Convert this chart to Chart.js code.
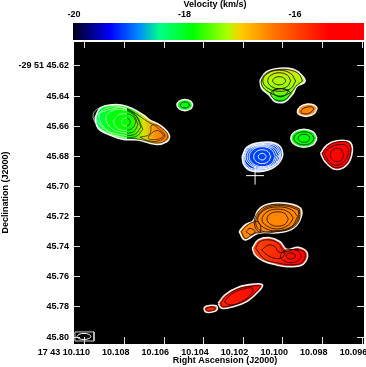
<!DOCTYPE html>
<html>
<head>
<meta charset="utf-8">
<script src="https://cdn.jsdelivr.net/npm/chart.js@4"></script>
<style>
html, body { margin: 0; padding: 0; background: #fff; overflow: hidden; }
canvas { position: absolute; left: 0; top: 0; }
</style>
</head>
<body>
<canvas id="map" width="366" height="367"></canvas>
<canvas id="bar" width="366" height="41"></canvas>
<script>
// axis ticks
var raTicks = [10.110, 10.108, 10.106, 10.104, 10.102, 10.100, 10.098, 10.096];
var raTickLabels = ['17 43 10.110', '10.108', '10.106', '10.104', '10.102', '10.100', '10.098', '10.096'];
var decTicks = [45.62, 45.64, 45.66, 45.68, 45.70, 45.72, 45.74, 45.76, 45.78, 45.80];
var decTickLabels = ['-29 51 45.62', '45.64', '45.66', '45.68', '45.70', '45.72', '45.74', '45.76', '45.78', '45.80'];
var velocityTicks = [-20, -18, -16];

// colour bar
var velocityStops = [-20.02, -19.35, -18.84, -18.45, -17.85, -17.23, -16.98, -16.4, -15.4, -14.75];
var velocityColors = ['#000018', '#0000ff', '#0088ff', '#00ff88', '#00ff00', '#aaff00', '#ffcc00', '#ff7700', '#ff0000', '#ff0000'];

// contours: [RA - 10.1 s in ms, Dec - 45.6 arcsec in mas], outermost first
var sourceA = [
	[[9.49,54.7],[9.24,48.1],[8.74,45.9],[8.15,45.9],[7.64,48.1],[7.05,52.5],[6.72,55.9],[6.21,59.2],[5.74,65.8],[5.87,70.3],[6.46,72.0],[7.31,69.1],[8.06,68.7],[8.74,65.8],[9.33,61.4]],
	[[8.23,47.2],[7.73,49.2],[6.72,57.8],[6.21,60.5],[5.81,66.5],[6.21,71.1],[7.32,68.5],[8.13,67.1],[9.0,62],[9.4,53]],
	[[7.07,62],[7.45,52.5],[8.33,46.7],[9.21,47.5],[9.59,53],[9.21,61.5],[8.33,66.8],[7.45,67]],
	[[7.17,60.5],[7.49,52.0],[8.23,47.5],[8.97,48.5],[9.29,53],[8.97,61.5],[8.23,65.5],[7.49,65.5]],
	[[7.32,59],[7.56,52.2],[8.13,48.9],[8.70,50.2],[8.94,54],[8.70,61],[8.13,64.1],[7.56,63.8]],
	[[7.42,57.2],[7.59,53.2],[7.98,51.6],[8.37,53.2],[8.54,57.2],[8.37,61.2],[7.98,62.8],[7.59,61.2]],
	[[7.70,57.2],[7.77,55.3],[7.93,54.5],[8.09,55.3],[8.16,57.2],[8.09,59.1],[7.93,59.9],[7.77,59.1]],
	[[7.22,67.3],[6.72,65.2],[6.63,59.2],[6.30,61.4],[5.96,66.5],[6.30,69.8],[6.80,69.6]],
	[[6.55,63.6],[6.30,62.9],[6.04,66.5],[6.35,68.7],[6.80,68.0]]
];
var sourceB = [
	[[4.55,45.9],[4.67,43.3],[4.95,42.2],[5.23,43.3],[5.35,45.9],[5.23,48.5],[4.95,49.6],[4.67,48.5]],
	[[4.72,45.9],[4.79,44.5],[4.95,43.9],[5.11,44.5],[5.18,45.9],[5.11,47.3],[4.95,47.9],[4.79,47.3]]
];
var sourceC = [
	[[1.16,29.3],[0.82,23.8],[0.15,21.5],[-0.52,22.2],[-0.94,26.0],[-1.11,30.4],[-0.69,33.7],[-0.52,38.1],[-0.10,43.7],[0.40,43.7],[0.69,39.3],[1.08,34.8]],
	[[-0.98,30],[-0.82,25.5],[-0.45,23],[0.15,22.3],[0.78,24.4],[1.08,29.3],[1.02,33.8],[0.62,38],[0.1,40],[-0.45,37],[-0.65,33.5]],
	[[-0.42,38],[-0.08,42.5],[0.36,42.6],[0.62,38.5],[0.4,35.5],[-0.1,35.5]],
	[[-0.3,36],[-0.05,40],[0.3,40],[0.5,37],[0.1,35]],
	[[-0.64,30],[-0.39,25],[0.19,22.8],[0.77,24.9],[1.02,29.8],[0.77,34.7],[0.19,36.8],[-0.39,35]],
	[[-0.39,29.8],[-0.22,26.1],[0.19,24.5],[0.60,26.1],[0.77,29.8],[0.60,33.5],[0.19,35.1],[-0.22,33.5]],
	[[-0.14,29.8],[-0.04,27.9],[0.19,27.1],[0.42,27.9],[0.52,29.8],[0.42,31.7],[0.19,32.5],[-0.04,31.7]]
];
var sourceD = [
	[[-1.73,48],[-1.58,46],[-1.23,45.3],[-0.88,47],[-0.73,50.5],[-0.88,52.5],[-1.23,53.4],[-1.58,51.5]],
	[[-1.56,48.2],[-1.46,47.2],[-1.23,47.2],[-1.0,48.5],[-0.9,50.5],[-1.0,51.5],[-1.23,51.7],[-1.46,50.2]]
];
var sourceE = [
	[[-1.72,68],[-1.52,63.8],[-1.06,62],[-0.60,63.8],[-0.40,68],[-0.60,72.2],[-1.06,74],[-1.52,72.2]],
	[[-1.57,68],[-1.42,65],[-1.06,63.7],[-0.70,65],[-0.55,68],[-0.70,71],[-1.06,72.3],[-1.42,71]],
	[[-1.36,68],[-1.27,66.1],[-1.06,65.3],[-0.85,66.1],[-0.76,68],[-0.85,69.9],[-1.06,70.7],[-1.27,69.9]]
];
var sourceF = [
	[[-1.90,78],[-2.21,72.5],[-2.71,69.6],[-3.35,70.3],[-3.50,76.9],[-3.22,85.7],[-2.63,88.6],[-2.12,83.5]],
	[[-1.98,78],[-2.27,73.2],[-2.71,70.6],[-3.3,71],[-3.42,77],[-3.17,85],[-2.63,87.6],[-2.17,83]],
	[[-2.1,78.2],[-2.33,74.5],[-2.73,72.4],[-3.2,73],[-3.3,77.5],[-3.08,83.5],[-2.63,86],[-2.27,82.5]],
	[[-3.07,79.1],[-2.97,76],[-2.73,74.7],[-2.49,76],[-2.39,79.1],[-2.49,82.2],[-2.73,83.5],[-2.97,82.2]]
];
var sourceG = [
	[[2.06,80.2],[1.83,74],[1.16,70.9],[0.40,71.3],[0.04,76.2],[0.15,83.5],[0.74,89.1],[1.58,89.7],[1.97,85.7]],
	[[0.1,77],[0.2,83],[0.74,88.4],[1.55,89],[1.92,85.4],[2.0,80.2],[1.8,74.5],[1.16,71.7],[0.42,72]],
	[[0.15,78],[0.24,83],[0.74,87.6],[1.5,88.4],[1.88,85],[1.95,80.2],[1.74,74.6],[1.12,72.3],[0.44,72.8]],
	[[0.19,79],[0.45,74.2],[1.05,72.4],[1.65,74.6],[1.91,80.2],[1.65,85.8],[1.05,88.2],[0.45,85.5]],
	[[0.29,79.5],[0.52,74.8],[1.05,73],[1.58,75],[1.81,80.2],[1.58,85.4],[1.05,87.5],[0.52,85.2]],
	[[0.39,80],[0.59,75.5],[1.05,73.6],[1.51,75.5],[1.71,80.2],[1.51,84.9],[1.05,86.8],[0.59,85]],
	[[0.62,80.2],[0.75,76.9],[1.05,75.6],[1.35,76.9],[1.48,80.2],[1.35,83.5],[1.05,84.8],[0.75,83.5]],
	[[0.85,80.2],[0.91,78.7],[1.05,78],[1.19,78.7],[1.25,80.2],[1.19,81.7],[1.05,82.4],[0.91,81.7]]
];
var sourceH = [
	[[2.21,130],[1.92,125.6],[1.50,122.7],[1.25,115.6],[0.74,111.6],[-0.19,111.2],[-0.89,114.5],[-0.86,122.3],[-0.44,128.4],[0.32,130.7],[1.25,131.1],[1.92,135.5]],
	[[2.1,130],[1.85,126.2],[1.45,123.5],[1.2,124],[1.15,130.3],[1.45,131],[1.9,134.5]],
	[[-0.82,114.8],[-0.82,122],[-0.42,127.8],[0.32,130],[1.2,130.3],[1.45,124],[1.25,117],[0.74,112.6],[-0.19,112.2]],
	[[-0.78,115.6],[-0.76,121.6],[-0.42,127],[0.3,129.4],[1.12,129.4],[1.38,124],[1.18,117.6],[0.7,113.4],[-0.18,113]],
	[[-0.74,120],[-0.44,115.5],[0.27,113.6],[0.98,116],[1.28,122],[0.98,127.2],[0.27,129.6],[-0.44,126.5]],
	[[-0.52,121],[-0.28,117],[0.27,115],[0.82,117],[1.06,122],[0.82,126.2],[0.27,128.2],[-0.28,125.6]],
	[[-0.27,121.6],[-0.11,118.2],[0.27,116.8],[0.65,118.2],[0.81,121.6],[0.65,125],[0.27,126.4],[-0.11,125]],
	[[1.87,130],[1.67,127.8],[1.41,130],[1.58,132.2]]
];
var sourceI = [
	[[1.55,141],[1.25,135.5],[0.66,134],[0.15,136.7],[-0.19,141.7],[-0.77,140.4],[-1.23,144.4],[-1.03,151.5],[-0.35,153.3],[0.32,152.1],[0.99,149.5],[1.41,145.5]],
	[[1.38,141],[1.16,136.6],[0.66,135.5],[0.24,137.7],[-0.10,143.3],[-0.61,141.7],[-1.11,144.4],[-0.94,150.6],[-0.35,151.9],[0.32,150.6],[0.91,148.4]],
	[[1.08,142.2],[0.74,138.9],[0.40,140],[0.24,143.3],[-0.10,144.4],[0.15,147.7],[0.66,146.6]],
	[[-0.93,146.2],[-0.77,143.1],[-0.40,141.8],[-0.03,143.1],[0.13,146.2],[-0.03,149.3],[-0.40,150.6],[-0.77,149.3]],
	[[-0.64,146.2],[-0.57,144.8],[-0.40,144.2],[-0.23,144.8],[-0.16,146.2],[-0.23,147.6],[-0.40,148.2],[-0.57,147.6]]
];
var sourceJ = [
	[[3.27,177.6],[2.93,172],[2.26,166.9],[1.41,164.8],[1.03,165.4],[1.25,169.9],[1.83,176.5],[2.51,179.8],[3.10,180.9]],
	[[3.15,177.6],[2.88,173],[2.25,168],[1.45,166],[1.15,166],[1.35,169.8],[1.88,175.5],[2.5,178.8],[3.05,179.8]],
	[[2.96,176.5],[2.59,171.4],[2.0,168.1],[1.53,167.6],[1.58,170.9],[2.09,176.5],[2.68,178.7]]
];
var sourceK = [
	[[4.0,180.9],[3.85,179.4],[3.38,179.2],[3.32,181.6],[3.52,183.2],[3.89,183.4]],
	[[3.9,181],[3.78,180.3],[3.5,180],[3.42,181.5],[3.55,182.4],[3.82,182.6]]
];
var beamEllipse = [[10.40,199.6],[10.30,198.2],[10.05,197.6],[9.80,198.2],[9.70,199.6],[9.80,201],[10.05,201.6],[10.30,201]];
var beamBox = [[10.50,196.6],[9.54,196.6],[9.54,202.6],[10.50,202.6]];
var crossPoint = [[1.41,92.8]];

// which way the colour runs over each source, and the velocities met along the way
var sourceList = [sourceA, sourceB, sourceC, sourceD, sourceE, sourceF, sourceG, sourceH, sourceI, sourceJ, sourceK];
var colourFrom = [[9.5,62], [5,46], [0,21.5], [-1,48], [-1,68], [-2,78], [1,80], [0,120], [1.5,140], [3,178], [4,181]];
var colourTo = [[5.8,62], [5,50], [0,44], [-1,53], [-1,74], [-3.5,78], [0,80], [0,130], [-1.2,146], [1,166], [3.3,181]];
var sourceVelocities = [
	[-18.3, -17.95, -17.85, -17.8, -17.1, -16.55, -16.4],
	[-17.85, -17.85],
	[-17.05, -17.15, -17.2, -17.25, -17.35, -17.6, -17.9],
	[-16.5, -16.5],
	[-17.85, -17.85],
	[-15.45, -15.1],
	[-19.1, -19.1],
	[-16.5, -16.5],
	[-16.0, -15.85, -15.7, -15.5, -15.3],
	[-15.65, -15.45],
	[-15.7, -15.7]
];
var contourColor = ['#111', '#063000', '#161a00', '#2a1500', '#042804', '#2a0000', '#fff', '#2a1400', '#2a0800', '#2a0800', '#2a0800'];

var raTitle = 'Right Ascension (J2000)';
var velocityTitle = 'Velocity (km/s)';

var raBase = 10.1, decBase = 45.6;

function toPoints(ring, closed) {
	var pts = ring.map(function(p) {
		return { x: raBase + p[0] / 1000, y: decBase + p[1] / 1000 };
	});
	if (closed) pts.push(pts[0]);
	return pts;
}

function hexRgb(hex) {
	return [1, 3, 5].map(function(i) { return parseInt(hex.substr(i, 2), 16); });
}

function colourAt(v) {
	for (var i = 1; i < velocityStops.length; i++) {
		if (v <= velocityStops[i]) {
			var t = (v - velocityStops[i - 1]) / (velocityStops[i] - velocityStops[i - 1]);
			var a = hexRgb(velocityColors[i - 1]), b = hexRgb(velocityColors[i]);
			return 'rgb(' + a.map(function(c, k) { return Math.round(c + (b[k] - c) * t); }).join(',') + ')';
		}
	}
	return velocityColors[velocityColors.length - 1];
}

function sourceFill(k) {
	return function(ctx) {
		var chart = ctx.chart;
		if (!chart.chartArea) return 'transparent';
		var sx = chart.scales.x, sy = chart.scales.y;
		var g = chart.ctx.createLinearGradient(
			sx.getPixelForValue(raBase + colourFrom[k][0] / 1000), sy.getPixelForValue(decBase + colourFrom[k][1] / 1000),
			sx.getPixelForValue(raBase + colourTo[k][0] / 1000), sy.getPixelForValue(decBase + colourTo[k][1] / 1000));
		var vels = sourceVelocities[k];
		vels.forEach(function(v, i) {
			g.addColorStop(i / (vels.length - 1), colourAt(v));
		});
		return g;
	};
}

// the big source has white contours on its green side and dark ones on the orange side
function splitContour(ctx) {
	var chart = ctx.chart;
	if (!chart.chartArea) return '#111';
	var sx = chart.scales.x;
	var g = chart.ctx.createLinearGradient(sx.getPixelForValue(raBase + 0.00975), 0, sx.getPixelForValue(raBase + 0.00575), 0);
	g.addColorStop(0, '#d8ffd8');
	g.addColorStop(0.47, '#d8ffd8');
	g.addColorStop(0.47, '#141a00');
	g.addColorStop(1, '#141a00');
	return g;
}

var datasets = [];
sourceList.forEach(function(rings, k) {
	rings.forEach(function(ring, r) {
		datasets.push({
			data: toPoints(ring, true),
			showLine: true,
			tension: 0.4,
			pointRadius: 0,
			fill: r === 0 ? 'shape' : false,
			backgroundColor: r === 0 ? sourceFill(k) : 'transparent',
			borderColor: r === 0 ? '#f4f4f4' : (k === 0 ? splitContour : contourColor[k]),
			borderWidth: r === 0 ? 1.6 : (k === 0 ? 0.7 : 0.9)
		});
	});
});
datasets.push({ data: toPoints(beamBox, true), showLine: true, pointRadius: 0, fill: false, borderColor: '#ccc', borderWidth: 1 });
datasets.push({ data: toPoints(beamEllipse, true), showLine: true, tension: 0.4, pointRadius: 0, fill: false, borderColor: '#fff', borderWidth: 1 });
datasets.push({ data: toPoints(crossPoint), showLine: false, pointStyle: 'cross', pointRadius: 9, pointBorderColor: '#fff', pointBorderWidth: 1 });
datasets.reverse(); // chart.js paints the first dataset last

var font = { family: '"Liberation Sans", Arial, sans-serif', size: 9, weight: 'bold' };
var frame = { display: true, color: '#fff', width: 1 };
var inwardTicks = { drawOnChartArea: false, drawTicks: true, tickLength: -7, color: '#ddd', lineWidth: 1 };

// keep the plot box where the reference has it, whatever the labels measure
function fixedSize(prop, size) {
	return function(scale) {
		scale[prop] = size;
		scale.paddingLeft = scale.paddingRight = scale.paddingTop = scale.paddingBottom = 0;
	};
}

function setTicks(values) {
	return function(scale) {
		scale.ticks = values.map(function(v) { return { value: v }; });
	};
}

// these two titles are not centred on their axes in the reference, so scale.title can't place them
function caption(text, x, y) {
	return {
		id: 'caption',
		afterDraw: function(chart) {
			var c = chart.ctx;
			c.save();
			c.font = 'bold 9px "Liberation Sans", Arial, sans-serif';
			c.fillStyle = '#000';
			c.textAlign = 'center';
			c.textBaseline = 'middle';
			c.fillText(text, x, y);
			c.restore();
		}
	};
}

var blackPlot = {
	id: 'blackPlot',
	beforeDraw: function(chart) {
		var a = chart.chartArea;
		chart.ctx.fillStyle = '#000';
		chart.ctx.fillRect(a.left, a.top, a.right - a.left, a.bottom - a.top);
	}
};

new Chart(document.getElementById('map'), {
	type: 'scatter',
	data: { datasets: datasets },
	plugins: [blackPlot, caption(raTitle, 225, 361)],
	options: {
		responsive: false,
		animation: false,
		layout: { padding: 0, autoPadding: false },
		plugins: { legend: { display: false }, tooltip: { enabled: false } },
		scales: {
			x: {
				type: 'linear', position: 'bottom', reverse: true, min: 10.09591, max: 10.1106,
				afterBuildTicks: setTicks(raTicks),
				afterFit: fixedSize('height', 23),
				border: frame, grid: inwardTicks,
				ticks: {
					autoSkip: false, maxRotation: 0, align: 'end', labelOffset: 5, padding: 10,
					color: '#000', font: font,
					callback: function(v, i) { return raTickLabels[i]; }
				}
			},
			y: {
				type: 'linear', position: 'left', reverse: true, min: 45.6034, max: 45.8046,
				afterBuildTicks: setTicks(decTicks),
				afterFit: fixedSize('width', 73),
				border: frame, grid: inwardTicks,
				ticks: {
					autoSkip: false, padding: 11, color: '#000', font: font,
					callback: function(v, i) { return decTickLabels[i]; }
				},
				title: { display: true, text: 'Declination (J2000)', color: '#000', font: font, padding: 0 }
			},
			xTop: {
				type: 'linear', axis: 'x', position: 'top', reverse: true, min: 10.09591, max: 10.1106,
				afterBuildTicks: setTicks(raTicks),
				afterFit: fixedSize('height', 41),
				border: frame, grid: inwardTicks,
				ticks: { display: false }
			},
			yRight: {
				type: 'linear', axis: 'y', position: 'right', reverse: true, min: 45.6034, max: 45.8046,
				afterBuildTicks: setTicks(decTicks),
				afterFit: fixedSize('width', 2),
				border: frame, grid: inwardTicks,
				ticks: { display: false }
			}
		}
	}
});

function barFill(ctx) {
	var chart = ctx.chart;
	if (!chart.chartArea) return 'transparent';
	var a = chart.chartArea;
	var g = chart.ctx.createLinearGradient(a.left, 0, a.right, 0);
	velocityStops.forEach(function(v, i) {
		g.addColorStop((v - velocityStops[0]) / (velocityStops[velocityStops.length - 1] - velocityStops[0]), velocityColors[i]);
	});
	return g;
}

new Chart(document.getElementById('bar'), {
	type: 'bar',
	data: {
		labels: ['velocity'],
		datasets: [{
			data: [[velocityStops[0], velocityStops[velocityStops.length - 1]]],
			backgroundColor: barFill,
			barPercentage: 1,
			categoryPercentage: 1
		}]
	},
	plugins: [caption(velocityTitle, 215, 5)],
	options: {
		indexAxis: 'y',
		responsive: false,
		animation: false,
		layout: { padding: { left: 73, right: 2, bottom: 1 } },
		plugins: { legend: { display: false }, tooltip: { enabled: false } },
		scales: {
			x: {
				type: 'linear', position: 'top', min: -20.02, max: -14.75,
				afterBuildTicks: setTicks(velocityTicks),
				afterFit: fixedSize('height', 23),
				border: { display: false },
				grid: { drawOnChartArea: false, drawTicks: true, tickLength: -9, color: '#ddd', lineWidth: 1 },
				ticks: { autoSkip: false, maxRotation: 0, padding: 12, color: '#000', font: font }
			},
			y: { display: false }
		}
	}
});
</script>
</body>
</html>
